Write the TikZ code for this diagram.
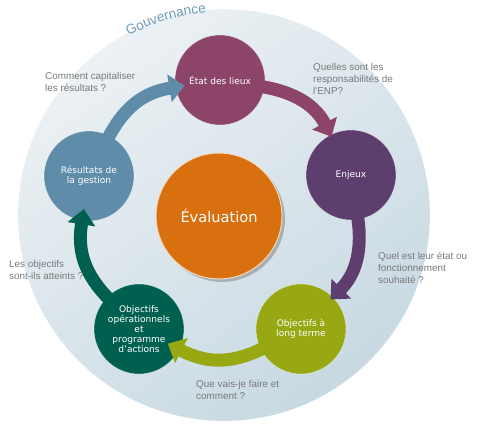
\documentclass[tikz,border=0pt]{standalone}
\usepackage{fontspec}
\setmainfont{DejaVu Sans}
\newfontfamily\labelfont{Liberation Sans}
\usetikzlibrary{arrows.meta,shadows,decorations.text}

\definecolor{etatcol}{RGB}{140,69,104}
\definecolor{enjeuxcol}{RGB}{94,62,110}
\definecolor{longcol}{RGB}{151,168,19}
\definecolor{opecol}{RGB}{0,96,79}
\definecolor{resultcol}{RGB}{95,140,169}
\definecolor{evalcol}{RGB}{217,112,15}
\definecolor{questioncol}{RGB}{122,122,122}
\definecolor{govcol}{RGB}{111,155,184}
\definecolor{bglight}{RGB}{236,241,244}
\definecolor{bgdark}{RGB}{200,217,226}

\begin{document}
\begin{tikzpicture}[x=0.85pt,y=0.85pt,
  stage/.style={circle, minimum size=76.5pt, inner sep=0pt, draw=white, draw opacity=0.5,
    line width=0.5pt, text=white, align=center, font=\fontsize{7.7}{8.4}\selectfont},
  question/.style={anchor=west, align=left, inner sep=0pt, text=questioncol,
    font=\labelfont\fontsize{8.4}{10.2}\selectfont},
  cyclearrow/.style={line width=11pt, -{Triangle[width=23pt,length=13pt]}, shorten <=-4pt}]
\useasboundingbox (0,0) rectangle (480,424);

% Draw the governance disc
\node[circle, minimum size=350pt, inner sep=0pt, top color=bglight, bottom color=bgdark,
  shading angle=35] (gouv) at (224,209) {};
\path[decorate, decoration={text along path, text align=left, text color=govcol,
  text={|\labelfont\fontsize{11.5}{12}\selectfont|Gouvernance}}]
  (gouv.center) ++(118:203) arc[start angle=118, end angle=80, radius=203];

% Draw the stage circles
\node[stage, fill=etatcol] (etat) at (220,344) {État des lieux};
\node[stage, fill=enjeuxcol] (enjeux) at (351,249) {Enjeux};
\node[stage, fill=longcol] (long) at (301,95) {Objectifs à\\long terme};
\node[stage, fill=opecol] (ope) at (139,95) {Objectifs\\opérationnels\\et\\programme\\d’actions};
\node[stage, fill=resultcol] (result) at (89,248) {Résultats de\\la gestion};

% Draw the central circle
\node[circle, minimum size=107pt, inner sep=0pt, fill=evalcol, draw=white!75!evalcol,
  line width=0.8pt, drop shadow={shadow xshift=2.5pt, shadow yshift=-2.5pt, fill=black!45, opacity=0.6},
  text=white, font=\fontsize{12.4}{14}\selectfont] (eval) at (219,208) {Évaluation};

% Draw the arrows
\draw[cyclearrow, resultcol, shorten >=-8pt] (result) to[bend left=27] (etat);
\draw[cyclearrow, etatcol, shorten >=-2pt] (etat) to[bend left=27] (enjeux);
\draw[cyclearrow, enjeuxcol, shorten >=-3pt] (enjeux) to[bend left=27] (long);
\draw[cyclearrow, longcol, shorten >=-11pt] (long) to[bend left=27] (ope);
\draw[cyclearrow, opecol, shorten >=-10pt] (ope) to[bend left=27] (result);

% Draw the questions
\node[question] (q1) at (45,342) {Comment capitaliser\\les résultats ?};
\node[question] (q2) at (313,345) {Quelles sont les\\responsabilités de\\l'ENP?};
\node[question] (q3) at (378,156) {Quel est leur état ou\\fonctionnement\\souhaité ?};
\node[question] (q4) at (9,154.5) {Les objectifs\\sont-ils atteints ?};
\node[question] (q5) at (196,34.5) {Que vais-je faire et\\comment ?};
\end{tikzpicture}
\end{document}
